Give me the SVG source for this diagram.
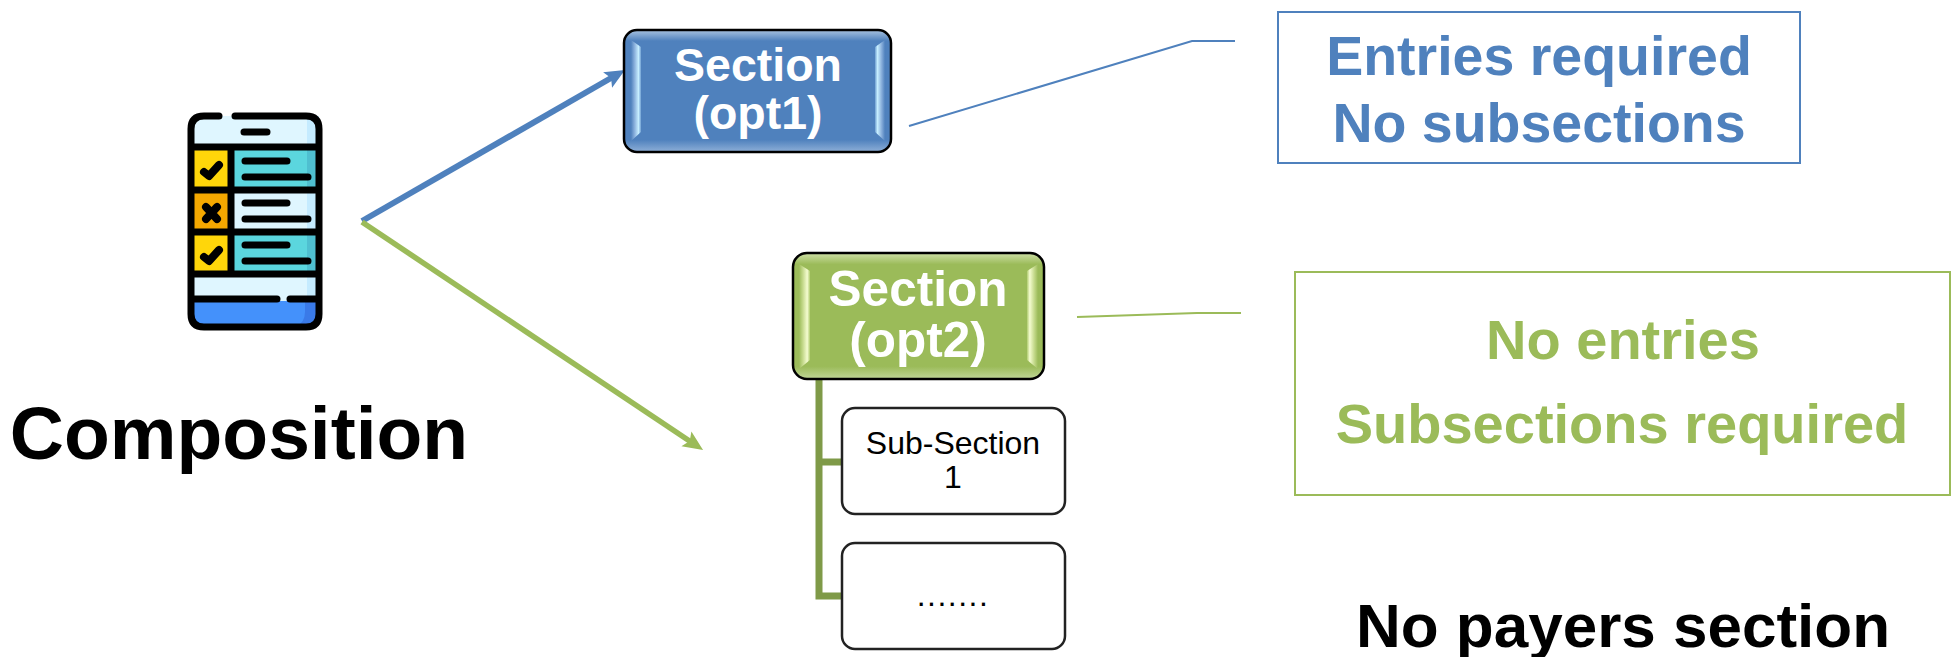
<svg xmlns="http://www.w3.org/2000/svg" width="1951" height="657" viewBox="0 0 1951 657">
<style>
text{font-family:"Liberation Sans",Arial,sans-serif;text-anchor:middle}
.w1{fill:#fff;font-weight:700;font-size:46.5px}
.w2{fill:#fff;font-weight:700;font-size:49.5px}
.blue{fill:#4f81bd;font-weight:700;font-size:55.5px}
.green{fill:#9bbb59;font-weight:700;font-size:56px}
.blk{fill:#000;font-weight:700}
.sub{fill:#000;font-size:32px}
.k{fill:none;stroke:#000;stroke-width:7;stroke-linecap:round}
.m{fill:none;stroke:#000;stroke-width:8;stroke-linecap:round;stroke-linejoin:round}
</style>
<defs>
<linearGradient id="gb" x1="0" y1="0" x2="0" y2="1"><stop offset="0" stop-color="#a9c3e0"/><stop offset=".09" stop-color="#4f81bd"/><stop offset=".9" stop-color="#4f81bd"/><stop offset="1" stop-color="#8fb0d8"/></linearGradient>
<linearGradient id="gg" x1="0" y1="0" x2="0" y2="1"><stop offset="0" stop-color="#cfe0a8"/><stop offset=".09" stop-color="#9bbb59"/><stop offset=".9" stop-color="#9bbb59"/><stop offset="1" stop-color="#c0d698"/></linearGradient>
<linearGradient id="sb" x1="0" y1="0" x2="1" y2="0"><stop offset="0" stop-color="#4f81bd"/><stop offset=".35" stop-color="#8ab0dc"/><stop offset=".75" stop-color="#c6eeff"/><stop offset="1" stop-color="#6f9fd2"/></linearGradient>
<linearGradient id="sg" x1="0" y1="0" x2="1" y2="0"><stop offset="0" stop-color="#9bbb59"/><stop offset=".35" stop-color="#c5da8c"/><stop offset=".75" stop-color="#f4fcd0"/><stop offset="1" stop-color="#b0cc70"/></linearGradient>
<marker id="ab" markerUnits="userSpaceOnUse" markerWidth="22" markerHeight="20" refX="6" refY="9" orient="auto"><path d="M0 0L20 9L0 18L4 9z" fill="#4f81bd"/></marker>
<marker id="ag" markerUnits="userSpaceOnUse" markerWidth="22" markerHeight="20" refX="6" refY="9" orient="auto"><path d="M0 0L20 9L0 18L4 9z" fill="#9bbb59"/></marker>
</defs>
<rect width="1951" height="657" fill="#fff"/>
<g id="connectors" fill="none">
<line x1="362" y1="221" x2="612.8" y2="77" stroke="#4f81bd" stroke-width="6" marker-end="url(#ab)"/>
<line x1="362" y1="222" x2="691.4" y2="442.2" stroke="#9bbb59" stroke-width="5.5" marker-end="url(#ag)"/>
<path d="M909 126L1192 41H1235" stroke="#4f81bd" stroke-width="2"/>
<path d="M1077 317L1197 313H1241" stroke="#9bbb59" stroke-width="2"/>
<path d="M819 380V596H842M819 462H842" stroke="#7f9a48" stroke-width="7"/>
</g>
<g id="icon">
<rect x="191" y="116" width="128" height="212" rx="18" fill="#dff6ff"/>
<path d="M307 116H319V301H307z" fill="#c5ebff"/>
<path d="M193 301H317V312Q317 327 302 327H208Q193 327 193 312z" fill="#4491fb"/>
<path d="M305 301H317V312Q317 327 302 327H296Q305 322 305 312z" fill="#3a7ae8"/>
<rect x="194" y="150" width="34" height="37" fill="#ffd60a"/>
<rect x="194" y="193" width="34" height="37" fill="#f5a800"/>
<rect x="194" y="235" width="34" height="37" fill="#ffd60a"/>
<rect x="234" y="150" width="82" height="37" fill="#5bd6de"/>
<rect x="234" y="235" width="82" height="37" fill="#5bd6de"/>
<rect x="307" y="150" width="9" height="37" fill="#4fbfd0"/>
<rect x="307" y="235" width="9" height="37" fill="#4fbfd0"/>
<path class="k" d="M219 116H204Q191 116 191 129V314Q191 327 204 327H306Q319 327 319 314V129Q319 116 306 116H235"/>
<path class="k" d="M193 147H317M193 190H317M193 232H317M193 274H317M193 299H277M290 299H317M231 150V272M244 132H267M245 161H287M245 177H308M245 203H287M245 219H308M245 245H287M245 261H308"/>
<path class="m" d="M204 172L209 176L219 165M204 257L209 261L219 250M206 207L217 219M217 207L206 219"/>
</g>
<text id="composition" x="239" y="459" class="blk" style="font-size:75px">Composition</text>
<g id="section1">
<rect x="624" y="30" width="267" height="122" rx="13" fill="url(#gb)" stroke="#000" stroke-width="2.5"/>
<path d="M631 40L641 47V132L631 141z" fill="url(#sb)"/>
<path d="M631 40L641 47V132L631 141z" fill="url(#sb)" transform="matrix(-1 0 0 1 1516 0)"/>
<text x="758" y="81" class="w1">Section</text>
<text x="758" y="129" class="w1">(opt1)</text>
</g>
<g id="section2">
<rect x="793" y="253" width="251" height="126" rx="14" fill="url(#gg)" stroke="#000" stroke-width="2.5"/>
<path d="M799 264L810 271V360L799 369z" fill="url(#sg)"/>
<path d="M799 264L810 271V360L799 369z" fill="url(#sg)" transform="matrix(-1 0 0 1 1837 0)"/>
<text x="918" y="306" class="w2">Section</text>
<text x="918" y="357" class="w2">(opt2)</text>
</g>
<g id="subsection1">
<rect x="842" y="408" width="223" height="106" rx="13" fill="#fff" stroke="#222" stroke-width="2.5"/>
<text x="953" y="454" class="sub">Sub-Section</text>
<text x="953" y="488" class="sub">1</text>
</g>
<g id="subsection2">
<rect x="842" y="543" width="223" height="106" rx="13" fill="#fff" stroke="#222" stroke-width="2.5"/>
<text x="953" y="606" class="sub" letter-spacing="1.5">.......</text>
</g>
<g id="note1">
<rect x="1278" y="12" width="522" height="151" fill="#fff" stroke="#4f81bd" stroke-width="2"/>
<text x="1539" y="75" class="blue">Entries required</text>
<text x="1539" y="142" class="blue">No subsections</text>
</g>
<g id="note2">
<rect x="1295" y="272" width="655" height="223" fill="#fff" stroke="#9bbb59" stroke-width="2"/>
<text x="1623" y="359" class="green">No entries</text>
<text x="1622" y="443" class="green">Subsections required</text>
</g>
<text id="nopayers" x="1623" y="647" class="blk" style="font-size:62px">No payers section</text>
</svg>
